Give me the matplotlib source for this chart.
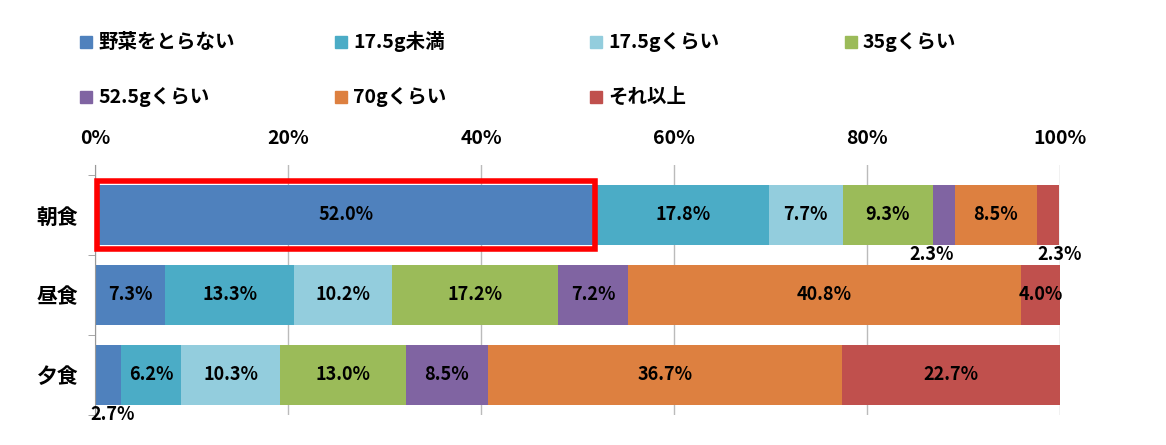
import matplotlib
matplotlib.use("Agg")
import matplotlib.pyplot as plt
from matplotlib.patches import Rectangle
import numpy as np

plt.rcParams['font.family'] = ['Noto Sans CJK JP', 'DejaVu Sans']
plt.rcParams['font.weight'] = 'bold'

meals = ["朝食", "昼食", "夕食"]
series = ["野菜をとらない", "17.5g未満", "17.5gくらい", "35gくらい",
          "52.5gくらい", "70gくらい", "それ以上"]
colors = ["#4F81BD", "#4BACC6", "#93CDDD", "#9BBB59", "#8064A2", "#DD8040", "#C0504D"]
values = np.array([
    [52.0, 17.8, 7.7, 9.3, 2.3, 8.5, 2.3],
    [7.3, 13.3, 10.2, 17.2, 7.2, 40.8, 4.0],
    [2.7, 6.2, 10.3, 13.0, 8.5, 36.7, 22.7],
])

fig = plt.figure(figsize=(11.66, 4.45), dpi=100)
ax = fig.add_axes([95 / 1166, 30 / 445, 965 / 1166, 250 / 445])

y = np.arange(len(meals))
left = np.zeros(len(meals))
for j, (name, c) in enumerate(zip(series, colors)):
    v = values[:, j]
    ax.barh(y, v, left=left, height=0.75, color=c, zorder=2)
    for i in range(len(meals)):
        cx = left[i] + v[i] / 2
        txt = f"{v[i]:.1f}%"
        if v[i] < 4:
            if j == 0:
                ax.text(cx + 0.5, y[i] + 0.5, txt, ha="center", va="center", fontsize=13)
            elif j == 6:
                ax.text(cx + 1.2, y[i] + 0.5, txt, ha="center", va="center", fontsize=13)
            else:
                ax.text(cx - 1.2, y[i] + 0.5, txt, ha="center", va="center", fontsize=13)
        else:
            ax.text(cx, y[i], txt, ha="center", va="center", fontsize=13)
    left += v

# highlight box around first bar
ax.add_patch(Rectangle((0.2, -0.42), values[0, 0] - 0.4, 0.84, fill=False,
                       edgecolor="#FF0000", linewidth=4, zorder=5, clip_on=False))

ax.set_xlim(0, 100)
ax.set_ylim(2.5, -0.625)
ax.xaxis.tick_top()
ax.set_xticks(np.arange(0, 101, 20))
ax.set_xticklabels([f"{t}%" for t in range(0, 101, 20)], fontsize=14)
ax.tick_params(axis="x", length=0, pad=12)
ax.set_yticks(y)
ax.set_yticklabels(meals, fontsize=15)
ax.set_yticks([-0.5, 0.5, 1.5, 2.5], minor=True)
ax.tick_params(axis="y", which="major", length=0, pad=12)
ax.tick_params(axis="y", which="minor", length=5, color="#999999")
ax.grid(axis="x", color="#BBBBBB", linewidth=1, zorder=0)
for s in ["top", "right", "bottom"]:
    ax.spines[s].set_visible(False)
ax.spines["left"].set_color("#999999")

# legend, manually placed
lx = [80, 335, 590, 845]
ly = [42, 97]
for k, (name, c) in enumerate(zip(series, colors)):
    px = lx[k % 4]
    py = ly[k // 4]
    fig.add_artist(Rectangle((px / 1166, (445 - py - 6) / 445), 12 / 1166, 12 / 445,
                             color=c, transform=fig.transFigure))
    fig.text((px + 18) / 1166, (445 - py) / 445, name, fontsize=14, va="center")

fig.savefig("out.png", dpi=100)
